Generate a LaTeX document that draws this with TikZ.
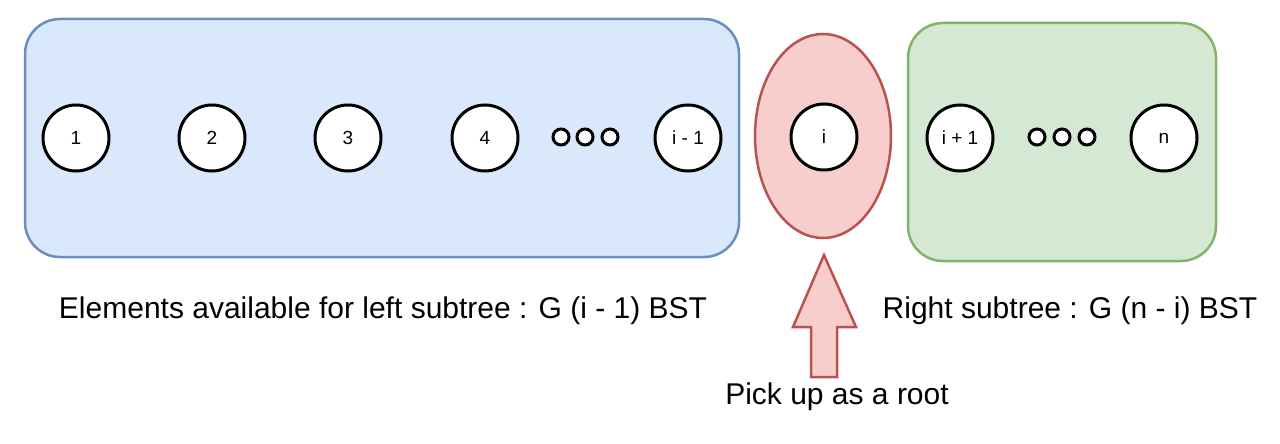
\documentclass[tikz,border=0pt]{standalone}
\usepackage{fontspec}
\setmainfont{Liberation Sans}
\usetikzlibrary{shapes.geometric}
\definecolor{bluefill}{HTML}{DAE8FC}
\definecolor{bluedraw}{HTML}{6C8EBF}
\definecolor{redfill}{HTML}{F8CECC}
\definecolor{reddraw}{HTML}{B85450}
\definecolor{greenfill}{HTML}{D5E8D4}
\definecolor{greendraw}{HTML}{82B366}
\begin{document}
\begin{tikzpicture}[x=1pt,y=-1pt,
  elem/.style={circle,draw=black,fill=white,line width=3pt,minimum size=66pt,inner sep=0pt,font=\fontsize{19}{22}\selectfont},
  dot/.style={circle,draw=black,fill=white,line width=3pt,minimum size=16pt,inner sep=0pt},
  lbl/.style={font=\fontsize{30}{34}\selectfont,inner sep=0pt}]
\useasboundingbox (0,0) rectangle (1280,444);
\draw[fill=bluefill,draw=bluedraw,line width=2.5pt,rounded corners=35pt] (25,19) rectangle (739,257);
\draw[fill=greenfill,draw=greendraw,line width=2.5pt,rounded corners=35pt] (908,23) rectangle (1216,261);
\node[ellipse,draw=reddraw,fill=redfill,line width=2.5pt,minimum width=136pt,minimum height=204pt,inner sep=0pt] (root) at (823,136) {};
\node[elem] (n1) at (76,138) {1};
\node[elem] (n2) at (212,138) {2};
\node[elem] (n3) at (348,138) {3};
\node[elem] (n4) at (485,138) {4};
\node[dot] (d1) at (561,137) {};
\node[dot] (d2) at (585,137) {};
\node[dot] (d3) at (610,137) {};
\node[elem] (nim1) at (688,138) {i - 1};
\node[elem] (ni) at (824,137) {i};
\node[elem] (nip1) at (960,138) {i + 1};
\node[dot] (e1) at (1037,137) {};
\node[dot] (e2) at (1062,137) {};
\node[dot] (e3) at (1087,137) {};
\node[elem] (nn) at (1164,138) {n};
\draw[fill=redfill,draw=reddraw,line width=2.5pt,line join=miter]
  (824,255) -- (856,327) -- (837,327) -- (837,377) -- (811,377) -- (811,327) -- (793,327) -- cycle;
\node[lbl] (tl) at (383,311) {Elements available for left subtree : G (i - 1) BST};
\node[lbl] (tr) at (1070,311) {Right subtree : G (n - i) BST};
\node[lbl] (tp) at (837,397) {Pick up as a root};
\end{tikzpicture}
\end{document}
